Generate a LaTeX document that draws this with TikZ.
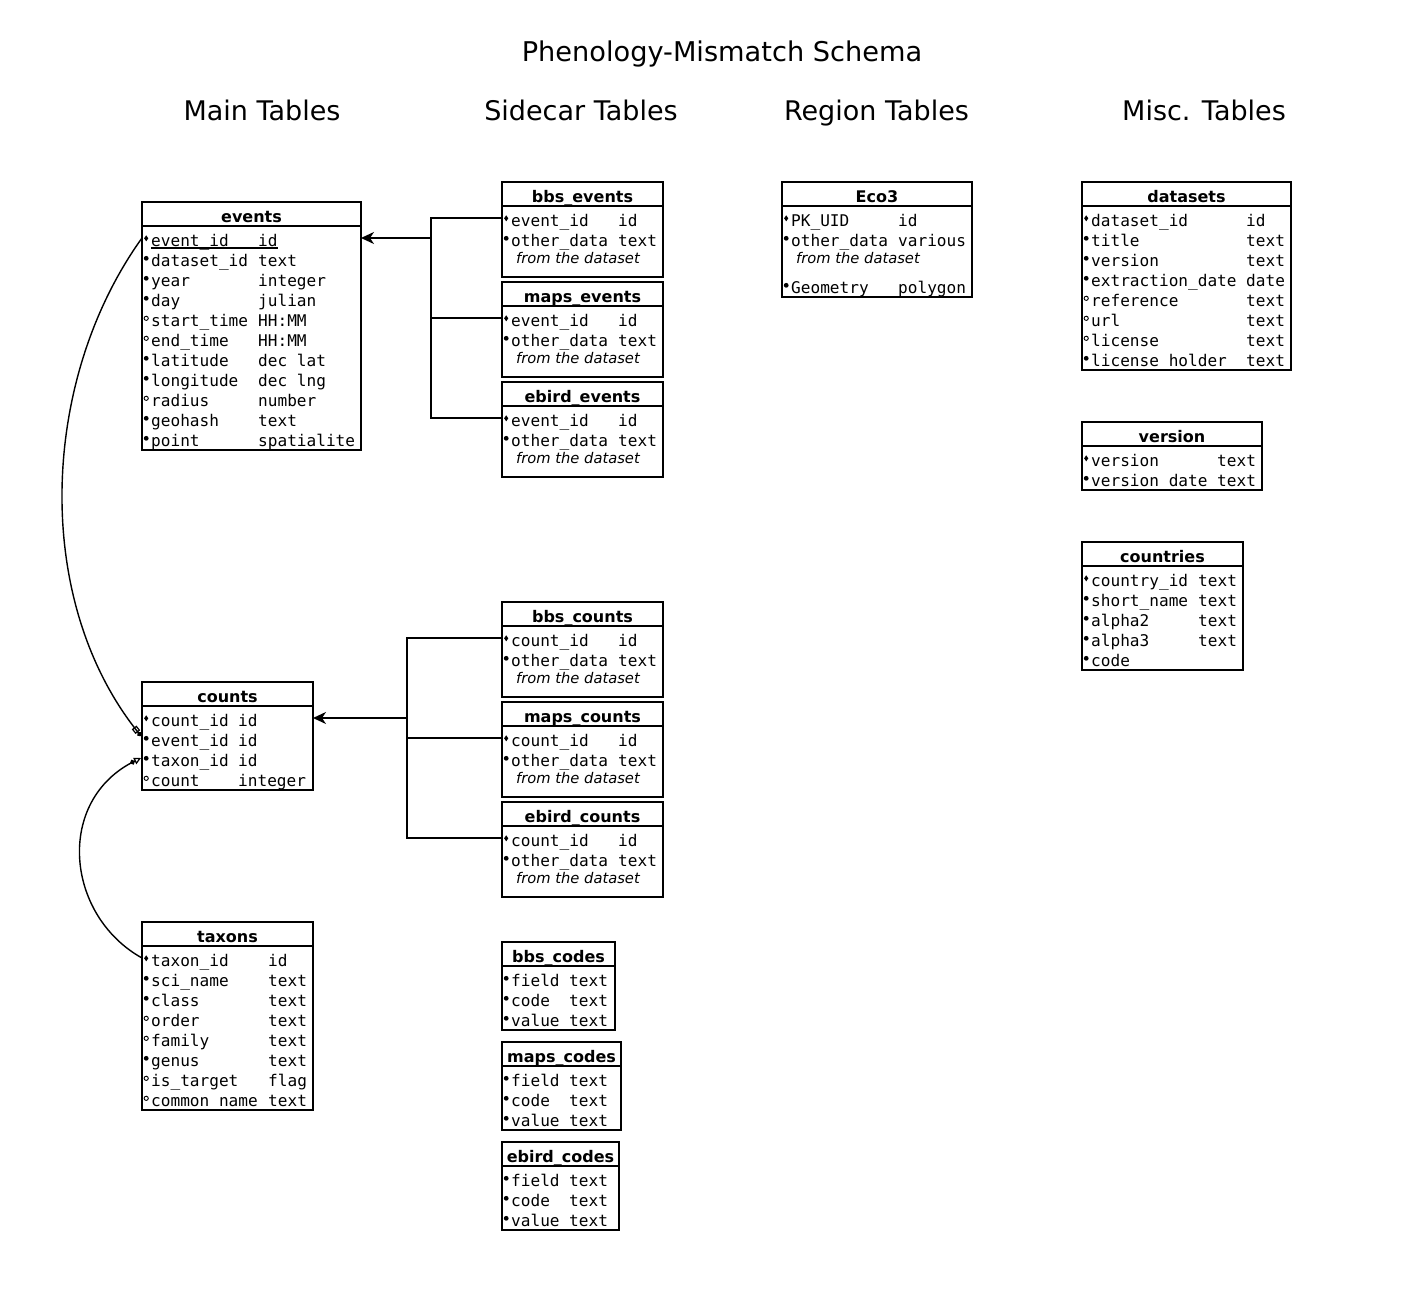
\documentclass[tikz,border=0pt]{standalone}
\usepackage{fontspec}
\setmainfont{DejaVu Sans}
\setmonofont{DejaVu Sans Mono}
\usetikzlibrary{arrows.meta}
\tikzset{
  tbl/.style={draw, line width=2pt, inner sep=0pt, outer sep=0pt, anchor=north west},
  hdr/.style={font=\fontsize{16}{19}\selectfont\bfseries, anchor=base, inner sep=0pt},
  fld/.style={font=\fontsize{16.1}{19}\selectfont\ttfamily, anchor=base west, inner sep=0pt},
  note/.style={font=\fontsize{14.7}{17}\selectfont\itshape, anchor=base west, inner sep=0pt},
  sect/.style={font=\fontsize{27}{31}\selectfont, anchor=base, inner sep=0pt},
  conn/.style={line width=2pt},
  fkey/.style={line width=1.4pt},
}
\newcommand\mkK[2]{\fill (#1,#2-3) -- (#1+2.1,#2) -- (#1,#2+3) -- (#1-2.1,#2) -- cycle;}
\newcommand\mkF[2]{\fill (#1,#2) circle[radius=2.4];}
\newcommand\mkO[2]{\draw[line width=0.9pt] (#1,#2) circle[radius=2.1];}
% name, left, top, right, bottom, divider, title
\newcommand\tbl[7]{%
  \node[tbl, minimum width={(#4-#2)*1pt}, minimum height={(#5-#3)*1pt}] (#1) at (#2,#3) {};
  \draw[line width=2pt] (#1.west |- 0,#6) -- (#1.east |- 0,#6);
  \node[hdr] (#1-title) at ({(#2+#4)/2},#3+20) {#7};
}
% name, marker, x1, ycenter, field, x2, type
\newcommand\trow[7]{%
  #2{#3-4.8}{#4-1.7}
  \node[fld] (#1f) at (#3,#4+6) {#5};
  \node[fld] (#1t) at (#6,#4+6) {#7};
}
\begin{document}
\begin{tikzpicture}[x=1pt,y=-1pt]
\path[fill=white] (0,0) rectangle (1403,1306);

% titles
\node[sect, font=\fontsize{27.2}{31}\selectfont] (title) at (722,62) {Phenology-Mismatch Schema};
\node[sect] (hmain) at (262,121) {Main Tables};
\node[sect] (hside) at (581,121) {Sidecar Tables};
\node[sect] (hregion) at (876.5,121) {Region Tables};
\node[sect] (hmisc) at (1204,121) {Misc. Tables};

% events
\tbl{events}{142}{202}{361}{450}{226}{events}
\trow{ev1}{\mkK}{151}{240}{event\_id}{258}{id}
\trow{ev2}{\mkF}{151}{260}{dataset\_id}{258}{text}
\trow{ev3}{\mkF}{151}{280}{year}{258}{integer}
\trow{ev4}{\mkF}{151}{300}{day}{258}{julian}
\trow{ev5}{\mkO}{151}{320}{start\_time}{258}{HH:MM}
\trow{ev6}{\mkO}{151}{340}{end\_time}{258}{HH:MM}
\trow{ev7}{\mkF}{151}{360}{latitude}{258}{dec lat}
\trow{ev8}{\mkF}{151}{380}{longitude}{258}{dec lng}
\trow{ev9}{\mkO}{151}{400}{radius}{258}{number}
\trow{ev10}{\mkF}{151}{420}{geohash}{258}{text}
\trow{ev11}{\mkF}{151}{440}{point}{258}{spatialite}
\draw[line width=1.2pt] ([yshift=-2pt]ev1f.base west) -- ([yshift=-2pt]ev1t.base east);

% counts
\tbl{counts}{142}{682}{313}{790}{706}{counts}
\trow{co1}{\mkK}{151}{720}{count\_id}{238}{id}
\trow{co2}{\mkF}{151}{740}{event\_id}{238}{id}
\trow{co3}{\mkF}{151}{760}{taxon\_id}{238}{id}
\trow{co4}{\mkO}{151}{780}{count}{238}{integer}

% taxons
\tbl{taxons}{142}{922}{313}{1110}{946}{taxons}
\trow{ta1}{\mkK}{151}{960}{taxon\_id}{268}{id}
\trow{ta2}{\mkF}{151}{980}{sci\_name}{268}{text}
\trow{ta3}{\mkF}{151}{1000}{class}{268}{text}
\trow{ta4}{\mkO}{151}{1020}{order}{268}{text}
\trow{ta5}{\mkO}{151}{1040}{family}{268}{text}
\trow{ta6}{\mkF}{151}{1060}{genus}{268}{text}
\trow{ta7}{\mkO}{151}{1080}{is\_target}{268}{flag}
\trow{ta8}{\mkO}{151}{1100}{common name}{268}{text}

% sidecar event tables
\tbl{bbsev}{502}{182}{663}{277}{206}{bbs\_events}
\trow{be1}{\mkK}{511}{220}{event\_id}{618}{id}
\trow{be2}{\mkF}{511}{240}{other\_data}{618}{text}
\node[note] (benote) at (516,263) {from the dataset};

\tbl{mapsev}{502}{282}{663}{377}{306}{maps\_events}
\trow{me1}{\mkK}{511}{320}{event\_id}{618}{id}
\trow{me2}{\mkF}{511}{340}{other\_data}{618}{text}
\node[note] (menote) at (516,363) {from the dataset};

\tbl{ebirdev}{502}{382}{663}{477}{406}{ebird\_events}
\trow{ee1}{\mkK}{511}{420}{event\_id}{618}{id}
\trow{ee2}{\mkF}{511}{440}{other\_data}{618}{text}
\node[note] (eenote) at (516,463) {from the dataset};

% sidecar count tables
\tbl{bbsco}{502}{602}{663}{697}{626}{bbs\_counts}
\trow{bc1}{\mkK}{511}{640}{count\_id}{618}{id}
\trow{bc2}{\mkF}{511}{660}{other\_data}{618}{text}
\node[note] (bcnote) at (516,683) {from the dataset};

\tbl{mapsco}{502}{702}{663}{797}{726}{maps\_counts}
\trow{mc1}{\mkK}{511}{740}{count\_id}{618}{id}
\trow{mc2}{\mkF}{511}{760}{other\_data}{618}{text}
\node[note] (mcnote) at (516,783) {from the dataset};

\tbl{ebirdco}{502}{802}{663}{897}{826}{ebird\_counts}
\trow{ec1}{\mkK}{511}{840}{count\_id}{618}{id}
\trow{ec2}{\mkF}{511}{860}{other\_data}{618}{text}
\node[note] (ecnote) at (516,883) {from the dataset};

% code tables
\tbl{bbscd}{502}{942}{615}{1030}{966}{bbs\_codes}
\trow{bd1}{\mkF}{511}{980}{field}{569}{text}
\trow{bd2}{\mkF}{511}{1000}{code}{569}{text}
\trow{bd3}{\mkF}{511}{1020}{value}{569}{text}

\tbl{mapscd}{502}{1042}{621}{1130}{1066}{maps\_codes}
\trow{md1}{\mkF}{511}{1080}{field}{569}{text}
\trow{md2}{\mkF}{511}{1100}{code}{569}{text}
\trow{md3}{\mkF}{511}{1120}{value}{569}{text}

\tbl{ebirdcd}{502}{1142}{619}{1230}{1166}{ebird\_codes}
\trow{ed1}{\mkF}{511}{1180}{field}{569}{text}
\trow{ed2}{\mkF}{511}{1200}{code}{569}{text}
\trow{ed3}{\mkF}{511}{1220}{value}{569}{text}

% region
\tbl{eco}{782}{182}{972}{297}{206}{Eco3}
\trow{eo1}{\mkK}{791}{220}{PK\_UID}{898}{id}
\trow{eo2}{\mkF}{791}{240}{other\_data}{898}{various}
\node[note] (eonote) at (796,263) {from the dataset};
\trow{eo3}{\mkF}{791}{287}{Geometry}{898}{polygon}

% misc
\tbl{datasets}{1082}{182}{1291}{370}{206}{datasets}
\trow{da1}{\mkK}{1091}{220}{dataset\_id}{1246}{id}
\trow{da2}{\mkF}{1091}{240}{title}{1246}{text}
\trow{da3}{\mkF}{1091}{260}{version}{1246}{text}
\trow{da4}{\mkF}{1091}{280}{extraction\_date}{1246}{date}
\trow{da5}{\mkO}{1091}{300}{reference}{1246}{text}
\trow{da6}{\mkO}{1091}{320}{url}{1246}{text}
\trow{da7}{\mkO}{1091}{340}{license}{1246}{text}
\trow{da8}{\mkF}{1091}{360}{license holder}{1246}{text}

\tbl{version}{1082}{422}{1262}{490}{446}{version}
\trow{ve1}{\mkK}{1091}{460}{version}{1217}{text}
\trow{ve2}{\mkF}{1091}{480}{version date}{1217}{text}

\tbl{countries}{1082}{542}{1243}{670}{566}{countries}
\trow{cn1}{\mkK}{1091}{580}{country\_id}{1198}{text}
\trow{cn2}{\mkF}{1091}{600}{short\_name}{1198}{text}
\trow{cn3}{\mkF}{1091}{620}{alpha2}{1198}{text}
\trow{cn4}{\mkF}{1091}{640}{alpha3}{1198}{text}
\trow{cn5}{\mkF}{1091}{660}{code}{1198}{}

% sidecar connectors: events
\coordinate (evbus) at (431,238);
\coordinate (evtop) at (431,218);
\coordinate (evbot) at (431,418);
\draw[conn] (bbsev.west |- evtop) -- (evtop) -- (evbot) -- (ebirdev.west |- evbot);
\draw[conn] (mapsev.west |- 0,318) -- (431,318);
\draw[conn, -{Stealth[length=13pt, width=12pt, inset=4pt]}] (evbus) -- (evbus -| events.east);

% sidecar connectors: counts
\coordinate (cobus) at (407,718);
\coordinate (cotop) at (407,638);
\coordinate (cobot) at (407,838);
\draw[conn] (bbsco.west |- cotop) -- (cotop) -- (cobot) -- (ebirdco.west |- cobot);
\draw[conn] (mapsco.west |- 0,738) -- (407,738);
\draw[conn, -{Stealth[length=13pt, width=12pt, inset=4pt]}] (cobus) -- (cobus -| counts.east);

% foreign keys
\coordinate (fk1s) at (142,238);
\coordinate (fk1e) at (141,736);
\draw[fkey, -{Square[open, length=6pt, width=6pt, line width=1.2pt] Circle[length=5pt]}]
  (fk1s) .. controls (40,380) and (32,600) .. (fk1e);
\coordinate (fk2s) at (142,958);
\coordinate (fk2e) at (141,758);
\draw[fkey, -{Circle[length=5pt] Triangle[open, length=7pt, width=7pt, line width=1.2pt]}]
  (fk2s) .. controls (65,915) and (55,800) .. (fk2e);
\end{tikzpicture}
\end{document}
